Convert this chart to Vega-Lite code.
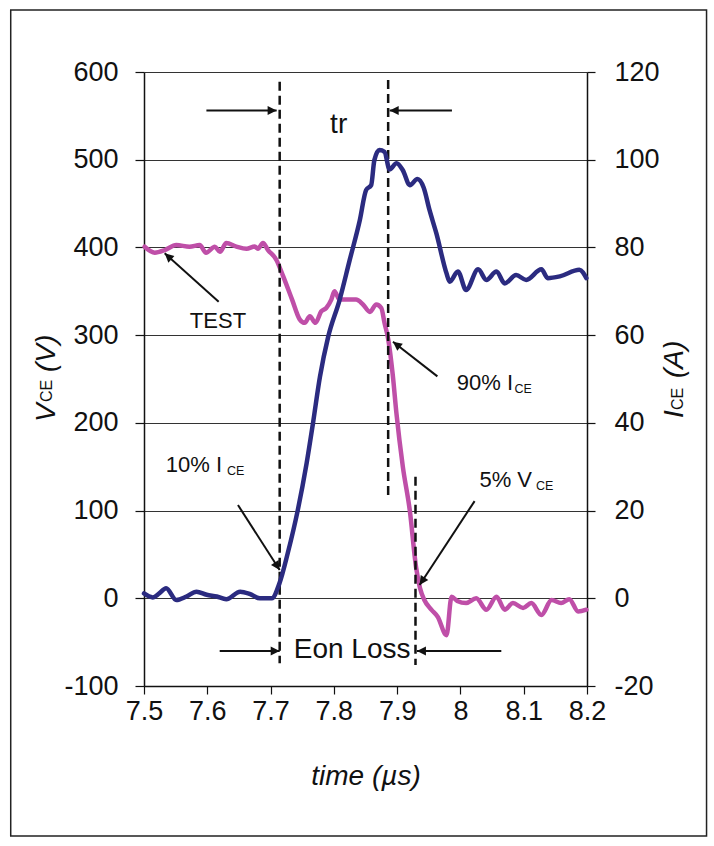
{
  "$schema": "https://vega.github.io/schema/vega-lite/v6.json",
  "width": 443,
  "height": 614,
  "autosize": {"type": "none"},
  "padding": {"left": 144, "top": 72, "right": 127, "bottom": 160},
  "background": "white",
  "config": {"view": {"stroke": null}, "font": "Liberation Sans"},
  "datasets": {
    "vce": [
      {"t": 7.501, "v": 400.8}, {"t": 7.517, "v": 394}, {"t": 7.533, "v": 397}, {"t": 7.551, "v": 402.7},
      {"t": 7.572, "v": 400.8}, {"t": 7.588, "v": 402.7}, {"t": 7.598, "v": 394}, {"t": 7.612, "v": 400.8},
      {"t": 7.62, "v": 395}, {"t": 7.63, "v": 405}, {"t": 7.646, "v": 401}, {"t": 7.662, "v": 398.5},
      {"t": 7.675, "v": 401}, {"t": 7.68, "v": 398.5}, {"t": 7.688, "v": 405}, {"t": 7.696, "v": 397},
      {"t": 7.709, "v": 386}, {"t": 7.72, "v": 367}, {"t": 7.734, "v": 340.5}, {"t": 7.746, "v": 318},
      {"t": 7.754, "v": 314}, {"t": 7.762, "v": 321.6}, {"t": 7.771, "v": 314}, {"t": 7.78, "v": 327},
      {"t": 7.788, "v": 331}, {"t": 7.796, "v": 340.5}, {"t": 7.801, "v": 350}, {"t": 7.809, "v": 340.5},
      {"t": 7.835, "v": 340.5}, {"t": 7.846, "v": 335}, {"t": 7.857, "v": 326.5}, {"t": 7.867, "v": 335},
      {"t": 7.875, "v": 331}, {"t": 7.88, "v": 314}, {"t": 7.886, "v": 295}, {"t": 7.893, "v": 255},
      {"t": 7.899, "v": 210}, {"t": 7.909, "v": 150}, {"t": 7.92, "v": 100}, {"t": 7.93, "v": 35},
      {"t": 7.936, "v": 12}, {"t": 7.943, "v": -2}, {"t": 7.954, "v": -13}, {"t": 7.964, "v": -21},
      {"t": 7.978, "v": -42}, {"t": 7.986, "v": 1.7}, {"t": 7.995, "v": -3}, {"t": 8.009, "v": -5.5},
      {"t": 8.025, "v": 0}, {"t": 8.041, "v": -13}, {"t": 8.057, "v": 1.7}, {"t": 8.07, "v": -13},
      {"t": 8.083, "v": -5.5}, {"t": 8.099, "v": -11}, {"t": 8.112, "v": -5.5}, {"t": 8.128, "v": -19},
      {"t": 8.144, "v": -2}, {"t": 8.159, "v": -5.5}, {"t": 8.172, "v": -1}, {"t": 8.186, "v": -15},
      {"t": 8.199, "v": -13}
    ],
    "ice": [
      {"t": 7.5, "i": 1.1}, {"t": 7.514, "i": 0.2}, {"t": 7.524, "i": 1.1}, {"t": 7.535, "i": 2.3},
      {"t": 7.551, "i": -0.4}, {"t": 7.567, "i": 0.4}, {"t": 7.583, "i": 1.5}, {"t": 7.599, "i": 0.8},
      {"t": 7.615, "i": 0.4}, {"t": 7.63, "i": -0.2}, {"t": 7.652, "i": 1.5}, {"t": 7.667, "i": 1.0},
      {"t": 7.683, "i": 0}, {"t": 7.702, "i": 0}, {"t": 7.714, "i": 3.4}, {"t": 7.727, "i": 10.2},
      {"t": 7.743, "i": 20.1}, {"t": 7.757, "i": 30.8}, {"t": 7.767, "i": 39.9}, {"t": 7.778, "i": 50.5},
      {"t": 7.791, "i": 59.6}, {"t": 7.809, "i": 68}, {"t": 7.825, "i": 77.1}, {"t": 7.841, "i": 86.2},
      {"t": 7.851, "i": 93.1}, {"t": 7.859, "i": 94.2}, {"t": 7.864, "i": 99.9}, {"t": 7.872, "i": 102.2},
      {"t": 7.88, "i": 101.8}, {"t": 7.888, "i": 97.8}, {"t": 7.899, "i": 99.2}, {"t": 7.909, "i": 97.6},
      {"t": 7.92, "i": 94.2}, {"t": 7.932, "i": 95.6}, {"t": 7.942, "i": 93.6}, {"t": 7.951, "i": 88.6},
      {"t": 7.962, "i": 83.2}, {"t": 7.978, "i": 74.1}, {"t": 7.983, "i": 72.2}, {"t": 7.996, "i": 74.5},
      {"t": 8.009, "i": 70.3}, {"t": 8.028, "i": 75}, {"t": 8.041, "i": 72.6}, {"t": 8.057, "i": 74.5},
      {"t": 8.07, "i": 71.8}, {"t": 8.088, "i": 73.7}, {"t": 8.104, "i": 72.6}, {"t": 8.128, "i": 75},
      {"t": 8.138, "i": 73}, {"t": 8.157, "i": 73.4}, {"t": 8.188, "i": 74.9}, {"t": 8.199, "i": 73}
    ],
    "dash": [
      {"t": 7.7144, "v": 589, "v2": -74},
      {"t": 7.8858, "v": 591, "v2": 116.5},
      {"t": 7.929, "v": 138.5, "v2": -76}
    ],
    "arrows": [
      {"name": "tr_l", "t": 7.7096, "v": 556, "t2": 7.5986, "v2": 556},
      {"name": "tr_r", "t": 7.8882, "v": 556, "t2": 7.9866, "v2": 556},
      {"name": "test", "t": 7.5327, "v": 393.3, "t2": 7.618, "v2": 338},
      {"name": "p90", "t": 7.8934, "v": 292.5, "t2": 7.9636, "v2": 253},
      {"name": "p10", "t": 7.7144, "v": 32.2, "t2": 7.6485, "v2": 106.3},
      {"name": "p5", "t": 7.9355, "v": 15.1, "t2": 8.0224, "v2": 110.8},
      {"name": "eon_l", "t": 7.7144, "v": -60.2, "t2": 7.6196, "v2": -60.2},
      {"name": "eon_r", "t": 7.9313, "v": -60.2, "t2": 8.0646, "v2": -60.2}
    ],
    "big": [
      {"t": 7.8076, "v": 530.8, "text": "tr"},
      {"t": 7.8289, "v": -68.5, "text": "Eon Loss"}
    ],
    "test": [
      {"t": 7.6169, "v": 307.8, "text": "TEST"}
    ],
    "pct": [
      {"t": 8.0831, "v": 237.4, "text": "90% I"},
      {"t": 7.6233, "v": 144.2, "text": "10% I"},
      {"t": 8.1131, "v": 127.1, "text": "5% V"}
    ],
    "sub": [
      {"t": 8.0854, "v": 234, "text": "CE"},
      {"t": 7.6311, "v": 140.5, "text": "CE"},
      {"t": 8.1194, "v": 123.4, "text": "CE"}
    ],
    "ttl": [
      {"t": 7.3594, "v": 201, "text": "V"},
      {"t": 7.3594, "v": 258, "text": "(V)"},
      {"t": 8.3517, "v": 205.5, "text": "I"},
      {"t": 8.3517, "v": 251.1, "text": "(A)"}
    ],
    "ttlsub": [
      {"t": 7.3554, "v": 223.8, "text": "CE"},
      {"t": 8.3517, "v": 214.6, "text": "CE"}
    ]
  },
  "layer": [
    {
      "layer": [
        {
          "data": {"name": "vce"},
          "mark": {"type": "line", "color": "#bf4fa8", "strokeWidth": 4.5, "strokeJoin": "round", "strokeCap": "round", "interpolate": "monotone"},
          "encoding": {
            "x": {
              "field": "t", "type": "quantitative",
              "scale": {"domain": [7.5, 8.2], "nice": false, "zero": false},
              "axis": {
                "title": "time (µs)",
                "values": [7.5, 7.6, 7.7, 7.8, 7.9, 8.0, 8.1, 8.2],
                "format": ".1~f", "grid": false, "labelFlush": false, "labelOverlap": false,
                "tickSize": 8, "tickColor": "#111", "tickWidth": 1.2,
                "domainColor": "#111", "domainWidth": 1.5,
                "labelFontSize": 27, "labelColor": "#111", "labelPadding": 4, "labelFont": "Liberation Sans",
                "titleFontSize": 28, "titleFontStyle": "italic", "titleFontWeight": "normal",
                "titleColor": "#111", "titlePadding": 38, "titleFont": "Liberation Sans"
              }
            },
            "y": {
              "field": "v", "type": "quantitative", "title": null,
              "scale": {"domain": [-100, 600], "nice": false, "zero": false},
              "axis": {
                "values": [-100, 0, 100, 200, 300, 400, 500, 600],
                "labelExpr": "datum.value < 0 ? '-' + toString(abs(datum.value)) : toString(datum.value)",
                "grid": true, "gridColor": "#333", "gridWidth": 1.2,
                "tickSize": 9, "tickColor": "#111", "tickWidth": 1.2,
                "domainColor": "#111", "domainWidth": 1.5,
                "labelFontSize": 27, "labelColor": "#111", "labelPadding": 17, "labelFont": "Liberation Sans"
              }
            }
          }
        },
        {
          "data": {"name": "dash"},
          "mark": {"type": "rule", "color": "#111", "strokeWidth": 2.5, "strokeDash": [9, 5]},
          "encoding": {
            "x": {"field": "t", "type": "quantitative"},
            "y": {"field": "v", "type": "quantitative", "title": null},
            "y2": {"field": "v2"}
          }
        },
        {
          "data": {"name": "arrows"},
          "mark": {"type": "rule", "color": "#111", "strokeWidth": 2},
          "encoding": {
            "x": {"field": "t", "type": "quantitative"},
            "y": {"field": "v", "type": "quantitative", "title": null},
            "x2": {"field": "t2"},
            "y2": {"field": "v2"}
          }
        },
        {
          "data": {"name": "arrows"},
          "transform": [{"filter": {"field": "name", "oneOf": ["tr_l", "eon_l"]}}],
          "mark": {"type": "point", "shape": "M0,0L-2,-1L-2,1Z", "size": 81, "filled": true, "color": "#111", "opacity": 1, "angle": 0},
          "encoding": {
            "x": {"field": "t", "type": "quantitative"},
            "y": {"field": "v", "type": "quantitative", "title": null}
          }
        },
        {
          "data": {"name": "arrows"},
          "transform": [{"filter": {"field": "name", "oneOf": ["tr_r", "eon_r"]}}],
          "mark": {"type": "point", "shape": "M0,0L-2,-1L-2,1Z", "size": 81, "filled": true, "color": "#111", "opacity": 1, "angle": 180},
          "encoding": {
            "x": {"field": "t", "type": "quantitative"},
            "y": {"field": "v", "type": "quantitative", "title": null}
          }
        },
        {
          "data": {"name": "arrows"},
          "transform": [{"filter": {"field": "name", "equal": "test"}}],
          "mark": {"type": "point", "shape": "M0,0L-2,-1L-2,1Z", "size": 81, "filled": true, "color": "#111", "opacity": 1, "angle": 222},
          "encoding": {
            "x": {"field": "t", "type": "quantitative"},
            "y": {"field": "v", "type": "quantitative", "title": null}
          }
        },
        {
          "data": {"name": "arrows"},
          "transform": [{"filter": {"field": "name", "equal": "p90"}}],
          "mark": {"type": "point", "shape": "M0,0L-2,-1L-2,1Z", "size": 81, "filled": true, "color": "#111", "opacity": 1, "angle": 218},
          "encoding": {
            "x": {"field": "t", "type": "quantitative"},
            "y": {"field": "v", "type": "quantitative", "title": null}
          }
        },
        {
          "data": {"name": "arrows"},
          "transform": [{"filter": {"field": "name", "equal": "p10"}}],
          "mark": {"type": "point", "shape": "M0,0L-2,-1L-2,1Z", "size": 81, "filled": true, "color": "#111", "opacity": 1, "angle": 57},
          "encoding": {
            "x": {"field": "t", "type": "quantitative"},
            "y": {"field": "v", "type": "quantitative", "title": null}
          }
        },
        {
          "data": {"name": "arrows"},
          "transform": [{"filter": {"field": "name", "equal": "p5"}}],
          "mark": {"type": "point", "shape": "M0,0L-2,-1L-2,1Z", "size": 81, "filled": true, "color": "#111", "opacity": 1, "angle": 123},
          "encoding": {
            "x": {"field": "t", "type": "quantitative"},
            "y": {"field": "v", "type": "quantitative", "title": null}
          }
        },
        {
          "data": {"name": "big"},
          "mark": {"type": "text", "font": "Liberation Sans", "fontSize": 28, "align": "center", "baseline": "alphabetic", "color": "#111"},
          "encoding": {
            "x": {"field": "t", "type": "quantitative"},
            "y": {"field": "v", "type": "quantitative", "title": null},
            "text": {"field": "text"}
          }
        },
        {
          "data": {"name": "test"},
          "mark": {"type": "text", "font": "Liberation Sans", "fontSize": 22, "align": "center", "baseline": "alphabetic", "color": "#111"},
          "encoding": {
            "x": {"field": "t", "type": "quantitative"},
            "y": {"field": "v", "type": "quantitative", "title": null},
            "text": {"field": "text"}
          }
        },
        {
          "data": {"name": "pct"},
          "mark": {"type": "text", "font": "Liberation Sans", "fontSize": 22, "align": "right", "baseline": "alphabetic", "color": "#111"},
          "encoding": {
            "x": {"field": "t", "type": "quantitative"},
            "y": {"field": "v", "type": "quantitative", "title": null},
            "text": {"field": "text"}
          }
        },
        {
          "data": {"name": "sub"},
          "mark": {"type": "text", "font": "Liberation Sans", "fontSize": 12.5, "align": "left", "baseline": "alphabetic", "color": "#111"},
          "encoding": {
            "x": {"field": "t", "type": "quantitative"},
            "y": {"field": "v", "type": "quantitative", "title": null},
            "text": {"field": "text"}
          }
        },
        {
          "data": {"name": "ttl"},
          "mark": {"type": "text", "font": "Liberation Sans", "fontSize": 28, "fontStyle": "italic", "angle": 270, "align": "left", "baseline": "alphabetic", "color": "#111", "clip": false},
          "encoding": {
            "x": {"field": "t", "type": "quantitative"},
            "y": {"field": "v", "type": "quantitative", "title": null},
            "text": {"field": "text"}
          }
        },
        {
          "data": {"name": "ttlsub"},
          "mark": {"type": "text", "font": "Liberation Sans", "fontSize": 16, "angle": 270, "align": "left", "baseline": "alphabetic", "color": "#111", "clip": false},
          "encoding": {
            "x": {"field": "t", "type": "quantitative"},
            "y": {"field": "v", "type": "quantitative", "title": null},
            "text": {"field": "text"}
          }
        },
        {
          "data": {"values": [{}]},
          "mark": {"type": "rect", "fillOpacity": 0, "stroke": "#222", "strokeWidth": 1.5, "clip": false},
          "encoding": {
            "x": {"datum": 7.2894, "type": "quantitative"},
            "x2": {"datum": 8.3889},
            "y": {"datum": 670.7, "type": "quantitative"},
            "y2": {"datum": -271.1}
          }
        }
      ]
    },
    {
      "data": {"name": "ice"},
      "mark": {"type": "line", "color": "#2b2b80", "strokeWidth": 4.5, "strokeJoin": "round", "strokeCap": "round", "interpolate": "monotone"},
      "encoding": {
        "x": {"field": "t", "type": "quantitative"},
        "y": {
          "field": "i", "type": "quantitative", "title": null,
          "scale": {"domain": [-20, 120], "nice": false, "zero": false},
          "axis": {
            "orient": "right",
            "values": [-20, 0, 20, 40, 60, 80, 100, 120],
            "labelExpr": "datum.value < 0 ? '-' + toString(abs(datum.value)) : toString(datum.value)",
            "grid": false,
            "tickSize": 8, "tickColor": "#111", "tickWidth": 1.2,
            "domainColor": "#111", "domainWidth": 1.5,
            "labelFontSize": 27, "labelColor": "#111", "labelPadding": 19, "labelFont": "Liberation Sans"
          }
        }
      }
    }
  ],
  "resolve": {"scale": {"y": "independent"}, "axis": {"y": "independent"}}
}
